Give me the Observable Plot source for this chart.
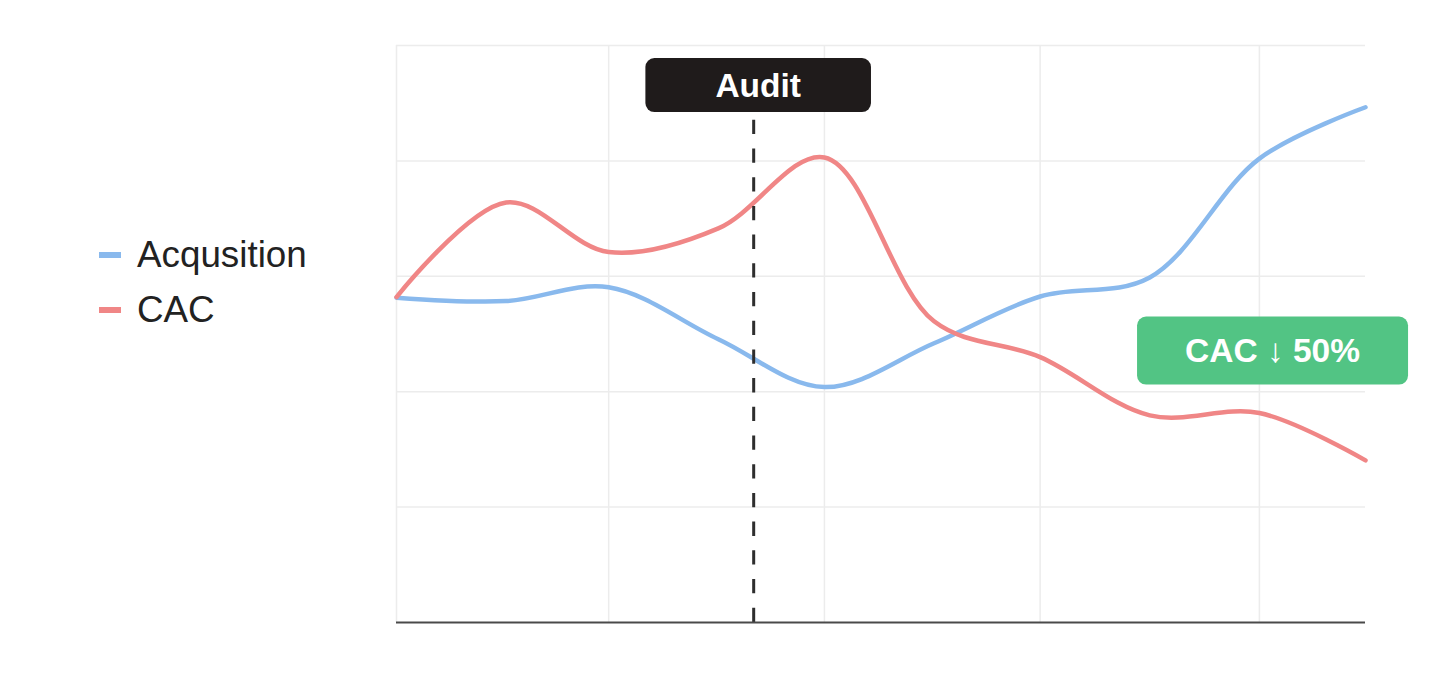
<!DOCTYPE html>
<html>
<head>
<meta charset="utf-8">
<script src="https://cdn.jsdelivr.net/npm/d3@7"></script>
<script src="https://cdn.jsdelivr.net/npm/@observablehq/plot@0.6"></script>
<style>
  html, body { margin: 0; padding: 0; background: #fff; }
  #wrap { position: relative; width: 1448px; height: 690px; font-family: "Liberation Sans", Arial, Helvetica, sans-serif; }
  #legend { position: absolute; left: 0; top: 0; width: 360px; height: 690px; }
  .item { position: absolute; left: 99px; height: 40px; display: flex; align-items: center; font-size: 36.8px; line-height: 40px; color: #222; }
  .swatch { width: 22px; height: 6px; margin-right: 16px; }
  #chart { position: absolute; left: 360px; top: 0; }
</style>
</head>
<body>
<div id="wrap">
  <div id="legend"></div>
  <div id="chart"></div>
</div>
<script>
// ---- data ----
const dates = ["2024-01-01","2024-02-01","2024-03-01","2024-04-01","2024-05-01","2024-06-01","2024-07-01","2024-08-01","2024-09-01","2024-10-01"];
const acquisition = [56.3, 55.7, 58.1, 49.1, 40.8, 48.4, 56.5, 59.8, 80.4, 89.3];
const cac = [56.4, 72.8, 64.2, 68.3, 80.6, 52.2, 46.0, 35.9, 36.3, 28.1];
const seriesNames = ["Acqusition", "CAC"];
const seriesColors = ["#89b9ed", "#f08686"];
const yTicks = [0, 20, 40, 60, 80, 100];
const xGridDates = ["2024-01-01","2024-03-01","2024-05-01","2024-07-01","2024-09-01"];
const auditDate = "2024-04-11";
const auditLabel = "Audit";
const auditLabelY = 93;
const resultDate = "2024-09-05";
const resultLabel = "CAC \u2193 50%";
const resultLabelY = 47;

// ---- build table ----
const parse = d3.utcParse("%Y-%m-%d");
const rows = [];
[acquisition, cac].forEach((vals, si) => {
  vals.forEach((v, i) => rows.push({series: seriesNames[si], date: parse(dates[i]), value: v}));
});

// ---- legend ----
const legend = d3.select("#legend");
seriesNames.forEach((name, i) => {
  const it = legend.append("div").attr("class", "item").style("top", (235 + i * 55) + "px");
  it.append("span").attr("class", "swatch").style("background", seriesColors[i]);
  it.append("span").text(name);
});

// ---- chart ----
const chart = Plot.plot({
  width: 1088,
  height: 690,
  marginLeft: 36,
  marginRight: 83,
  marginTop: 45,
  marginBottom: 68,
  style: {fontFamily: "'Liberation Sans', Arial, Helvetica, sans-serif", background: "transparent", overflow: "visible"},
  x: {type: "utc", domain: [parse(dates[0]), parse(dates[dates.length - 1])], axis: null},
  y: {domain: [yTicks[0], yTicks[yTicks.length - 1]], axis: null},
  color: {domain: seriesNames, range: seriesColors},
  marks: [
    Plot.ruleX(xGridDates.map(parse), {stroke: "#ececec", strokeWidth: 1.5}),
    Plot.ruleY(yTicks.slice(1), {stroke: "#ececec", strokeWidth: 1.5}),
    Plot.line(rows, {x: "date", y: "value", z: "series", stroke: "series", curve: "catmull-rom", strokeWidth: 4.5, strokeLinecap: "round", strokeLinejoin: "round"}),
    Plot.ruleX([parse(auditDate)], {y1: yTicks[0], y2: auditLabelY, stroke: "#2e2e2e", strokeWidth: 3, strokeDasharray: "14.3,14.4"}),
    Plot.ruleY([yTicks[0]], {stroke: "#4a4a4a", strokeWidth: 2}),
    Plot.text([{date: parse(auditDate), y: auditLabelY, label: auditLabel}], {
      x: "date", y: "y", text: "label", dx: 4.5, fill: "white", fontSize: 33.5, fontWeight: "bold"
    }),
    Plot.text([{date: parse(resultDate), y: resultLabelY, label: resultLabel}], {
      x: "date", y: "y", text: "label", dx: -1, fill: "white", fontSize: 33.5, fontWeight: "bold"
    })
  ]
});
document.getElementById("chart").appendChild(chart);

// background boxes behind the annotation labels
function boxBehind(label, fill, padX, padY, radius) {
  d3.select(chart).selectAll("text").each(function() {
    if (this.textContent !== label) return;
    const b = this.getBBox();
    const t = this.getAttribute("transform");
    const r = d3.select(this.parentNode).insert("rect", () => this)
      .attr("x", b.x - padX).attr("y", b.y - padY)
      .attr("width", b.width + 2 * padX).attr("height", b.height + 2 * padY)
      .attr("rx", radius).attr("fill", fill);
    if (t) r.attr("transform", t);
  });
}
boxBehind(auditLabel, "#1f1b1b", 70, 8.5, 9);
boxBehind(resultLabel, "#52c484", 48, 15.5, 9);
</script>
</body>
</html>
